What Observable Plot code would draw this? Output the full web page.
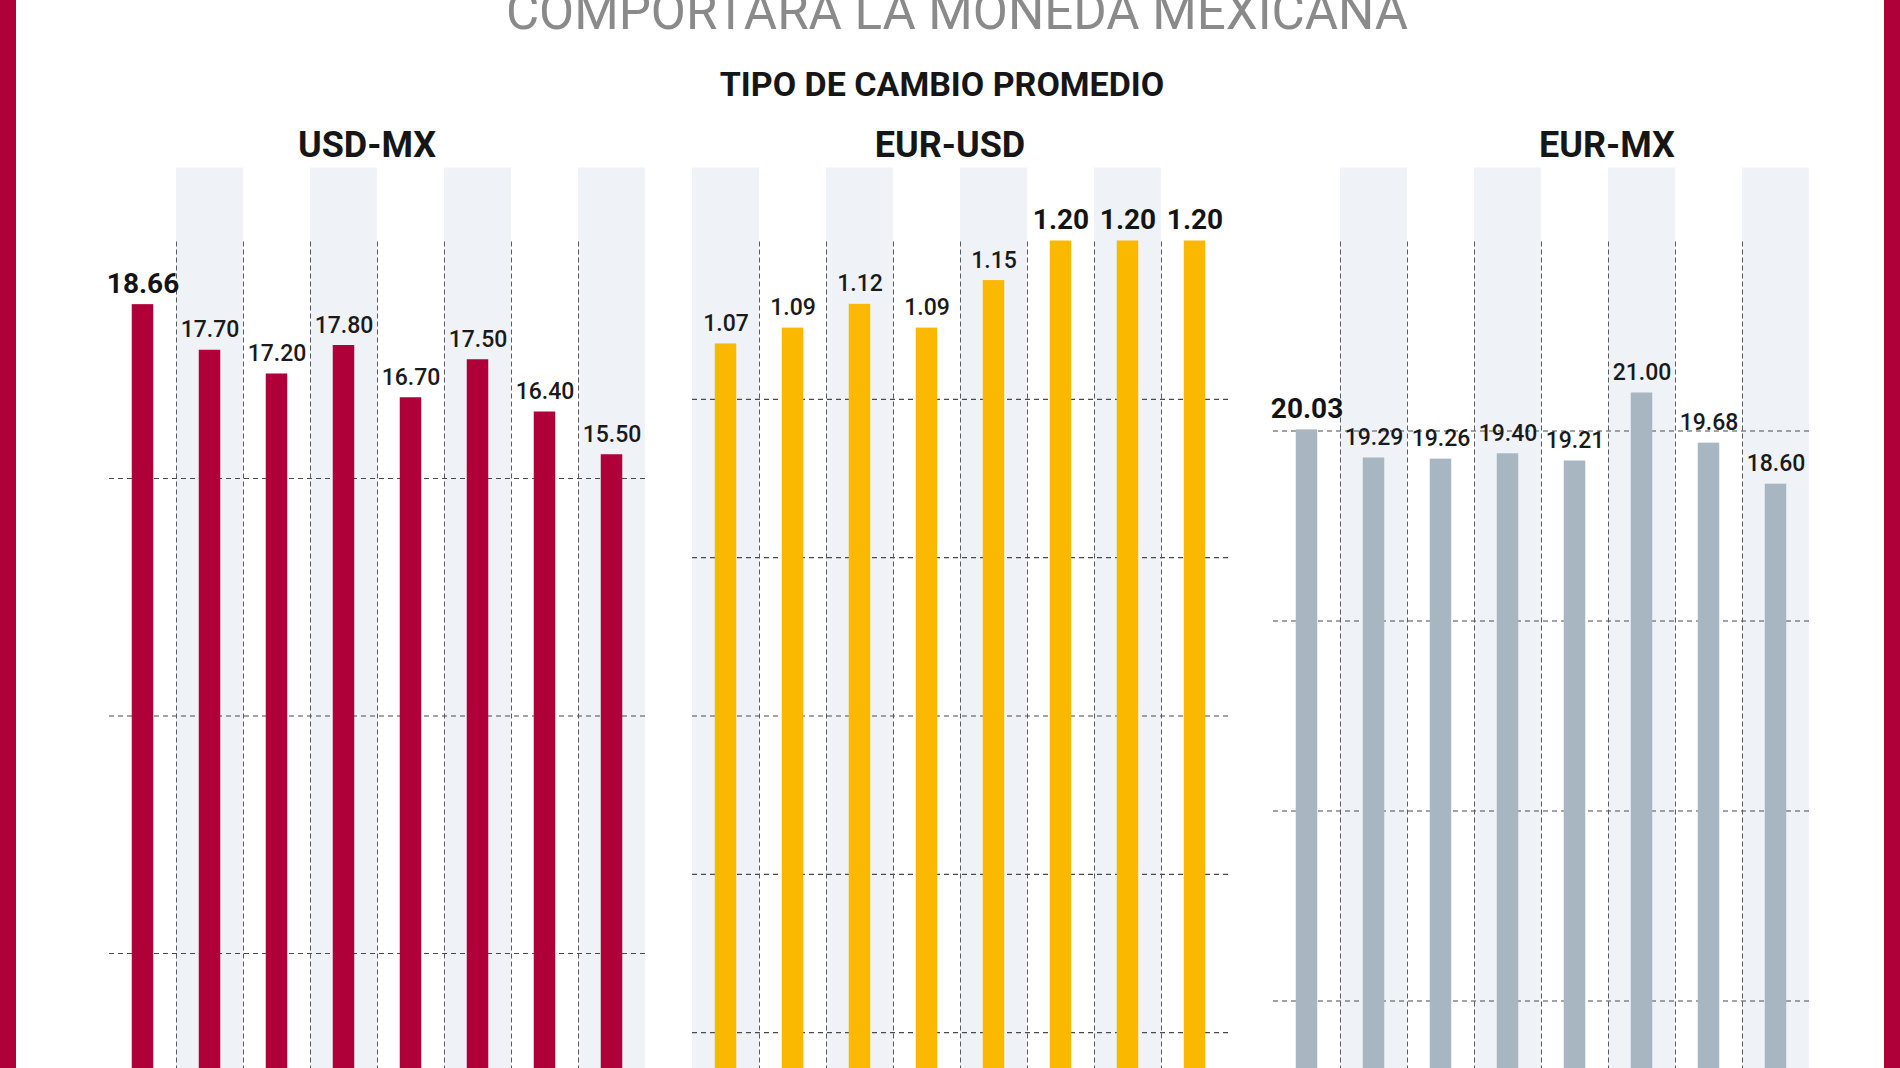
<!DOCTYPE html>
<html><head><meta charset="utf-8">
<script src="https://cdn.jsdelivr.net/npm/d3@7"></script>
<script src="https://cdn.jsdelivr.net/npm/@observablehq/plot@0.6"></script>
<style>
html,body{margin:0;padding:0;background:#fff;}
body{width:1900px;height:1068px;overflow:hidden;position:relative;font-family:Roboto,"Open Sans",sans-serif;}
.strip{position:absolute;top:0;width:16px;height:1068px;background:#b0003a;}
.t{position:absolute;white-space:nowrap;line-height:1;transform:translateX(-50%);}
.panel{position:absolute;top:0;}
</style></head><body>
<div class="strip" style="left:0"></div>
<div class="strip" style="right:0"></div>
<div id="root"></div>
<script>
// ---- data ----
const headline = "COMPORTARÁ LA MONEDA MEXICANA";
const subtitle = "TIPO DE CAMBIO PROMEDIO";
const panelTitles = ["USD-MX", "EUR-USD", "EUR-MX"];
const periods = ["1", "2", "3", "4", "5", "6", "7", "8"];

const usdMx = [18.66, 17.70, 17.20, 17.80, 16.70, 17.50, 16.40, 15.50];
const usdMxBold = [true, false, false, false, false, false, false, false];
const usdMxTicks = [0, 5, 10, 15, 20];

const eurUsd = [1.07, 1.09, 1.12, 1.09, 1.15, 1.20, 1.20, 1.20];
const eurUsdBold = [false, false, false, false, false, true, true, true];
const eurUsdTicks = [0, 0.2, 0.4, 0.6, 0.8, 1.0, 1.2];

const eurMx = [20.03, 19.29, 19.26, 19.40, 19.21, 21.00, 19.68, 18.60];
const eurMxBold = [true, false, false, false, false, false, false, false];
const eurMxTicks = [0, 5, 10, 15, 20, 25];

// ---- layout / style ----
const root = document.getElementById("root");
function addText(txt, cx, baseline, size, weight, color) {
  const d = document.createElement("div");
  d.className = "t";
  d.textContent = txt;
  d.style.left = cx + "px";
  d.style.top = (baseline - 0.8415 * size) + "px";
  d.style.fontSize = size + "px";
  d.style.fontWeight = weight;
  d.style.color = color;
  document.body.appendChild(d);
}
addText(headline, 957, 29, 51, 400, "#8a8a8a");
addText(subtitle, 942, 96, 34, 700, "#161616");

const panels = [
  {values: usdMx, bold: usdMxBold, ticks: usdMxTicks, color: "#b0003a", shade: 1, left: 108.5, titleX: 367},
  {values: eurUsd, bold: eurUsdBold, ticks: eurUsdTicks, color: "#fbb800", shade: 0, left: 692, titleX: 950},
  {values: eurMx, bold: eurMxBold, ticks: eurMxTicks, color: "#a7b6c1", shade: 1, left: 1273, titleX: 1607}
];

const W = 536, ML = 44, MR = 44, MT = 240.5, PH = 950, MB = 10;
const step = W / periods.length;
const barW = 21.5;
const fmt = d3.format(".2f");

panels.forEach((p, k) => {
  addText(panelTitles[k], p.titleX, 157.7, 36, 700, "#161616");
  const top = p.ticks[p.ticks.length - 1];
  const rows = periods.map((c, i) => ({c, v: p.values[i], b: p.bold[i], shaded: i % 2 === p.shade}));
  const grid = p.ticks.slice(1, -1);
  const chart = Plot.plot({
    width: W + ML + MR,
    height: MT + PH + MB,
    marginTop: MT, marginBottom: MB, marginLeft: ML, marginRight: MR,
    x: {type: "band", domain: periods, padding: 0, axis: null},
    y: {domain: [0, top], axis: null},
    style: {background: "transparent", overflow: "visible"},
    marks: [
      Plot.barY(rows.filter(d => d.shaded), {x: "c", y: () => top, fill: "#eff3f8", insetTop: -73}),
      Plot.ruleY(grid, {stroke: "#4a4a4a", strokeWidth: 1.1, strokeDasharray: "5,4"}),
      Plot.ruleX(periods.slice(1), {x: d => d, y1: 0, y2: top, dx: -step / 2, stroke: "#5a5a5a", strokeWidth: 1, strokeDasharray: "5,3"}),
      Plot.barY(rows, {x: "c", y: "v", fill: p.color, insetLeft: (step - barW) / 2, insetRight: (step - barW) / 2}),
      Plot.text(rows.filter(d => !d.b), {x: "c", y: "v", text: d => fmt(d.v), dy: -13, lineAnchor: "bottom", fontSize: 23, fontWeight: 500, fill: "#1a1a1a", fontFamily: "Roboto"}),
      Plot.text(rows.filter(d => d.b), {x: "c", y: "v", text: d => fmt(d.v), dy: -12, lineAnchor: "bottom", fontSize: 28, fontWeight: 700, fill: "#141414", fontFamily: "Roboto"})
    ]
  });
  chart.classList.add("panel");
  chart.style.left = (p.left - ML) + "px";
  root.appendChild(chart);
});
</script>
</body></html>
